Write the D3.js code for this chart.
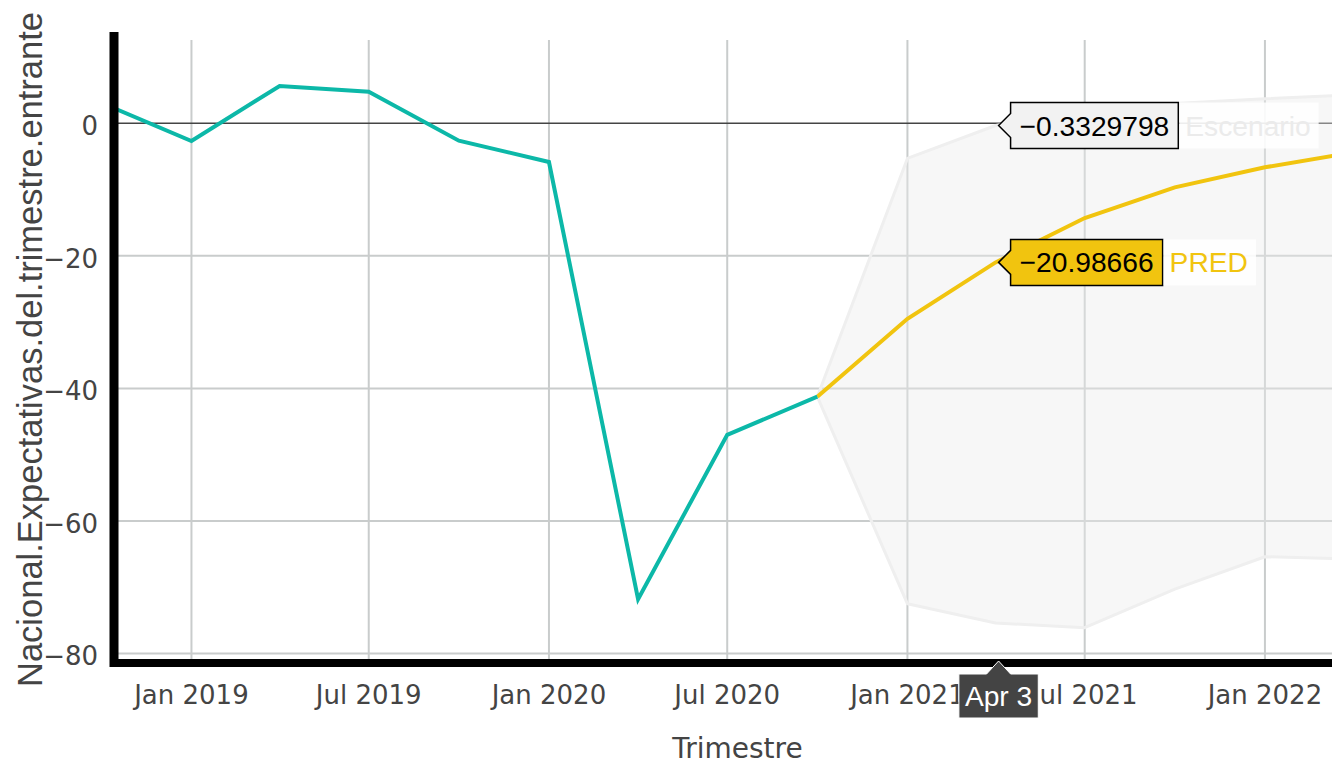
<!DOCTYPE html>
<html>
<head>
  <meta charset="utf-8">
  <title>Nacional.Expectativas.del.trimestre.entrante</title>
  <script src="https://d3js.org/d3.v7.min.js" charset="utf-8"></script>
  <style>
    body { margin: 0; background: #fff; }
    svg { display: block; }
  </style>
</head>
<body>
<script>
var w = 1332;
var h = 764;

// observed series (teal)
var obsDates = ["2018-10-01","2019-01-01","2019-04-01","2019-07-01","2019-10-01","2020-01-01","2020-04-01","2020-07-01","2020-10-01"];
var obsValues = [3.1, -2.67, 5.63, 4.77, -2.62, -5.84, -71.8, -47.0, -41.25];

// forecast (PRED) and the Escenario band
var predDates = ["2020-10-01","2021-01-01","2021-04-01","2021-07-01","2021-10-01","2022-01-01","2022-04-01"];
var predValues = [-41.25, -29.5, -20.98666, -14.3, -9.66, -6.64, -4.4];
var upperValues = [-41.25, -5.3, -0.3329798, 2.0, 3.0, 3.7, 4.3];
var lowerValues = [-41.25, -72.5, -75.4, -76.1, -70.3, -65.4, -65.75];

var xTicks = ["2019-01-01","2019-07-01","2020-01-01","2020-07-01","2021-01-01","2021-07-01","2022-01-01"];
var yTicks = [0, -20, -40, -60, -80];
var xDomain = ["2018-10-18","2022-04-05"];
var yDomain = [-80.83, 12.57];

var hoverIndex = 2;
var hoverDateLabel = "Apr 3";

var teal = "#0cb8a8";
var yellow = "#f1c40f";

// plot area (top/left are taken by window, so prefixed)
var pLeft = 118, pRight = 1357, pTop = 40, pBottom = 659;

var parse = d3.utcParse("%Y-%m-%d");

var x = d3.scaleUtc()
  .domain(xDomain.map(parse))
  .range([pLeft, pRight]);
var y = d3.scaleLinear()
  .domain(yDomain)
  .range([pBottom, pTop]);

var svg = d3.select("body").append("svg")
  .attr("width", w)
  .attr("height", h);

svg.append("clipPath").attr("id", "plot")
  .append("rect")
  .attr("x", pLeft).attr("y", pTop)
  .attr("width", pRight - pLeft).attr("height", pBottom - pTop);

// grid
var grid = svg.append("g");
grid.selectAll("line.v").data(xTicks).enter().append("line")
  .attr("x1", function(d) { return x(parse(d)); })
  .attr("x2", function(d) { return x(parse(d)); })
  .attr("y1", pTop).attr("y2", pBottom)
  .attr("stroke", "#c9cccc").attr("stroke-width", 2);
grid.selectAll("line.h").data(yTicks.filter(function(d) { return d !== 0; })).enter().append("line")
  .attr("x1", pLeft).attr("x2", pRight)
  .attr("y1", function(d) { return y(d); })
  .attr("y2", function(d) { return y(d); })
  .attr("stroke", "#c9cccc").attr("stroke-width", 2);
// zero line
grid.append("line")
  .attr("x1", pLeft).attr("x2", pRight)
  .attr("y1", y(0)).attr("y2", y(0))
  .attr("stroke", "#444").attr("stroke-width", 1.4);

var plot = svg.append("g").attr("clip-path", "url(#plot)");

// band
var band = predDates.map(function(d, i) {
  return { date: parse(d), lo: lowerValues[i], hi: upperValues[i] };
});
var area = d3.area()
  .x(function(d) { return x(d.date); })
  .y0(function(d) { return y(d.lo); })
  .y1(function(d) { return y(d.hi); });
plot.append("path")
  .attr("d", area(band))
  .attr("fill", "rgba(236,236,236,0.4)")
  .attr("stroke", "#efefef")
  .attr("stroke-width", 3)
  .attr("stroke-linejoin", "round");

var line = d3.line()
  .x(function(d) { return x(d[0]); })
  .y(function(d) { return y(d[1]); });

var obs = obsDates.map(function(d, i) { return [parse(d), obsValues[i]]; });
var pred = predDates.map(function(d, i) { return [parse(d), predValues[i]]; });

plot.append("path")
  .attr("d", line(pred))
  .attr("fill", "none")
  .attr("stroke", yellow)
  .attr("stroke-width", 4);
plot.append("path")
  .attr("d", line(obs))
  .attr("fill", "none")
  .attr("stroke", teal)
  .attr("stroke-width", 4);

// axis lines
svg.append("line")
  .attr("x1", 114).attr("x2", 114)
  .attr("y1", 32).attr("y2", pBottom + 8)
  .attr("stroke", "#000").attr("stroke-width", 9);
svg.append("line")
  .attr("x1", 110).attr("x2", w)
  .attr("y1", pBottom + 4).attr("y2", pBottom + 4)
  .attr("stroke", "#000").attr("stroke-width", 8);

// tick labels
var fmtDate = d3.utcFormat("%b %Y");
svg.selectAll("text.xt").data(xTicks).enter().append("text")
  .text(function(d) { return fmtDate(parse(d)); })
  .attr("x", function(d) { return x(parse(d)); })
  .attr("y", 704)
  .attr("text-anchor", "middle")
  .attr("font-family", "DejaVu Sans, Verdana, sans-serif")
  .attr("font-size", 26)
  .attr("fill", "#444");
var fmtY = d3.format("d");
svg.selectAll("text.yt").data(yTicks).enter().append("text")
  .text(function(d) { return fmtY(d); })
  .attr("x", 98)
  .attr("y", function(d) { return y(d) + 12; })
  .attr("text-anchor", "end")
  .attr("font-family", "DejaVu Sans, Verdana, sans-serif")
  .attr("font-size", 26)
  .attr("fill", "#444");

// axis titles
svg.append("text")
  .text("Trimestre")
  .attr("x", (pLeft + pRight) / 2)
  .attr("y", 758)
  .attr("text-anchor", "middle")
  .attr("font-family", "DejaVu Sans, Verdana, sans-serif")
  .attr("font-size", 28)
  .attr("fill", "#444");
svg.append("text")
  .text("Nacional.Expectativas.del.trimestre.entrante")
  .attr("transform", "translate(42," + ((pTop + pBottom) / 2) + ") rotate(-90)")
  .attr("text-anchor", "middle")
  .attr("font-family", "Liberation Sans, Arial, sans-serif")
  .attr("font-size", 34.5)
  .attr("fill", "#444");

// hover labels
var fmtHover = d3.format(".7~g");
var hoverFont = "Liberation Sans, Arial, sans-serif";

function hoverLabel(tx, ty, value, fill, name, nameColor) {
  var g = svg.append("g");
  var t = g.append("text")
    .text(fmtHover(value))
    .attr("x", tx + 21)
    .attr("y", ty + 10)
    .attr("font-family", hoverFont)
    .attr("font-size", 28.2)
    .attr("fill", "#000");
  var tw = t.node().getComputedTextLength();
  var bw = tw + 18;
  var x0 = tx + 12, x1 = x0 + bw;
  var path = d3.path();
  path.moveTo(tx, ty);
  path.lineTo(x0, ty - 12);
  path.lineTo(x0, ty - 23);
  path.lineTo(x1, ty - 23);
  path.lineTo(x1, ty + 23);
  path.lineTo(x0, ty + 23);
  path.lineTo(x0, ty + 12);
  path.closePath();
  g.insert("path", "text")
    .attr("d", path.toString())
    .attr("fill", fill)
    .attr("stroke", "#000")
    .attr("stroke-width", 1.5);
  var nt = g.append("text")
    .text(name)
    .attr("x", x1 + 7)
    .attr("y", ty + 10)
    .attr("font-family", hoverFont)
    .attr("font-size", 28.2)
    .attr("fill", nameColor);
  var nw = nt.node().getComputedTextLength();
  g.insert("rect", "text:last-child")
    .attr("x", x1 + 1)
    .attr("y", ty - 23)
    .attr("width", nw + 14)
    .attr("height", 46)
    .attr("fill", "rgba(255,255,255,0.85)");
}

var hx = x(parse(predDates[hoverIndex])) + 3;
hoverLabel(hx, y(upperValues[hoverIndex]), upperValues[hoverIndex], "#f2f2f2", "Escenario", "#ebebeb");
hoverLabel(hx, y(predValues[hoverIndex]), predValues[hoverIndex], yellow, "PRED", yellow);

// x hover label
var xg = svg.append("g");
var xt = xg.append("text")
  .text(hoverDateLabel)
  .attr("x", hx)
  .attr("y", 706)
  .attr("text-anchor", "middle")
  .attr("font-family", hoverFont)
  .attr("font-size", 28.2)
  .attr("fill", "#fff");
var xw = xt.node().getComputedTextLength() + 12;
var xp = d3.path();
xp.moveTo(hx, pBottom + 2);
xp.lineTo(hx + 12, pBottom + 15);
xp.lineTo(hx + xw / 2, pBottom + 15);
xp.lineTo(hx + xw / 2, pBottom + 59);
xp.lineTo(hx - xw / 2, pBottom + 59);
xp.lineTo(hx - xw / 2, pBottom + 15);
xp.lineTo(hx - 12, pBottom + 15);
xp.closePath();
xg.insert("path", "text")
  .attr("d", xp.toString())
  .attr("fill", "#444")
  .attr("stroke", "#fff")
  .attr("stroke-width", 1);
</script>
</body>
</html>
